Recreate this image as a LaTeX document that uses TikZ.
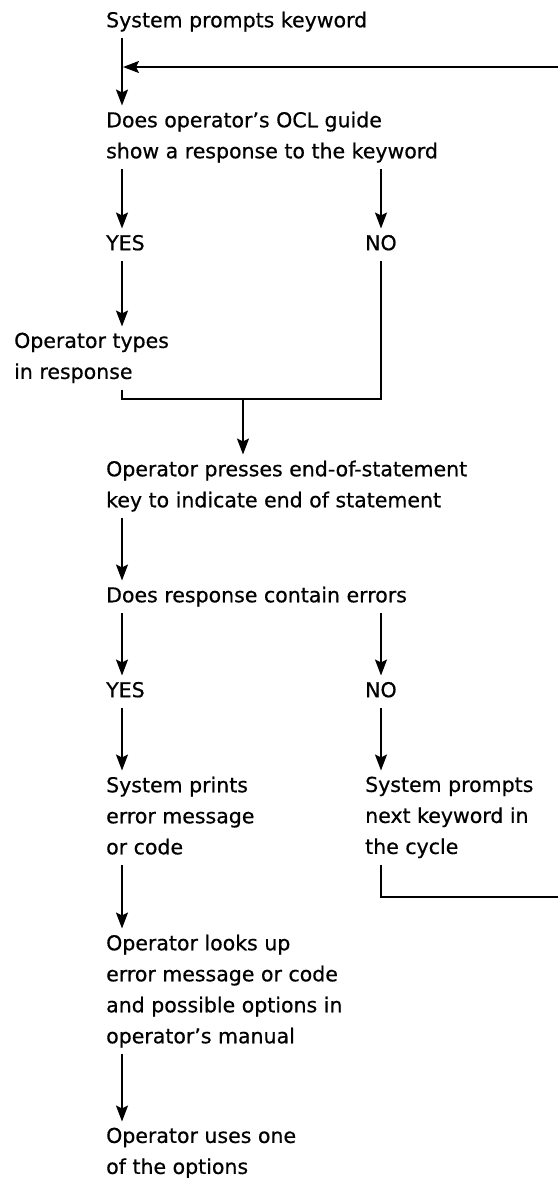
\documentclass[tikz,border=0pt]{standalone}
\usepackage{fontspec}
\setmainfont{DejaVu Sans}[FakeBold=0.6]
\usetikzlibrary{arrows.meta}

\begin{document}
\begin{tikzpicture}[x=1pt,y=-1pt,
    every node/.style={anchor=north west,align=left,inner xsep=0pt,inner ysep=6pt,
      font=\fontsize{20.5}{31}\selectfont,
      execute at begin node=\vrule width 0pt height 15.5pt depth 0pt\relax,
      execute at end node=\vrule width 0pt height 0pt depth 4.5pt\relax},
    wire/.style={line width=2pt},
    flow/.style={wire,-{Stealth[length=16pt,width=12pt,inset=3pt]}}]
  \useasboundingbox (0,0) rectangle (558,1178);
  \coordinate (colL) at (122,0);
  \coordinate (colM) at (243,0);
  \coordinate (colR) at (381,0);
  \coordinate (retTop) at (558,67);
  \coordinate (loopin) at (123,67);
  \coordinate (joinR) at (381,399);
  \coordinate (retBot) at (558,897);

  \node (sysk) at (106,5.5) {System prompts keyword};
  \node (ocl) at (106,105.5) {Does operator's OCL guide\\show a response to the keyword};
  \node (yes1) at (106,228.5) {YES};
  \node (no1) at (365,228.5) {NO};
  \node (types) at (14,326.5) {Operator types\\in response};
  \node (press) at (106,454.5) {Operator presses end-of-statement\\key to indicate end of statement};
  \node (err) at (106,580.5) {Does response contain errors};
  \node (yes2) at (106,675.5) {YES};
  \node (no2) at (365,675.5) {NO};
  \node (prints) at (106,770.5) {System prints\\error message\\or code};
  \node (next) at (365,770.5) {System prompts\\next keyword in\\the cycle};
  \node (looks) at (106,928.5) {Operator looks up\\error message or code\\and possible options in\\operator's manual};
  \node (uses) at (106,1121.5) {Operator uses one\\of the options};

  \draw[flow] (sysk.south -| colL) -- (ocl.north -| colL);
  \draw[flow] (retTop) -- (loopin);
  \draw[flow] (ocl.south -| colL) -- (yes1.north -| colL);
  \draw[flow] (ocl.south -| colR) -- (no1.north -| colR);
  \draw[flow] (yes1.south -| colL) -- (types.north -| colL);
  \draw[wire] (types.south -| colL) |- (joinR) -- (no1.south -| colR);
  \draw[flow] (colM |- joinR) -- (press.north -| colM);
  \draw[flow] (press.south -| colL) -- (err.north -| colL);
  \draw[flow] (err.south -| colL) -- (yes2.north -| colL);
  \draw[flow] (err.south -| colR) -- (no2.north -| colR);
  \draw[flow] (yes2.south -| colL) -- (prints.north -| colL);
  \draw[flow] (no2.south -| colR) -- (next.north -| colR);
  \draw[wire] (next.south -| colR) |- (retBot);
  \draw[flow] (prints.south -| colL) -- (looks.north -| colL);
  \draw[flow] (looks.south -| colL) -- (uses.north -| colL);
\end{tikzpicture}
\end{document}
